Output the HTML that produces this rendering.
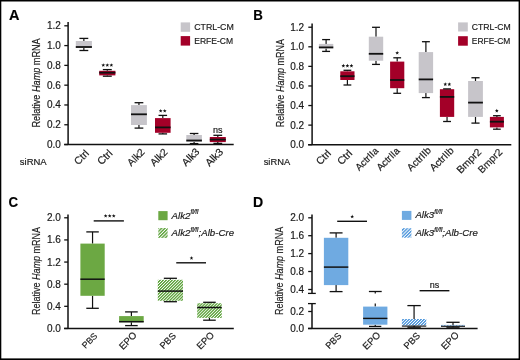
<!DOCTYPE html>
<html><head><meta charset="utf-8"><style>
html,body{margin:0;padding:0;background:#fff;}
svg{display:block;font-family:"Liberation Sans", sans-serif;will-change:transform;}
text{stroke:#1a1a1a;stroke-width:0.18px;}
</style></head><body>
<svg width="520" height="360" viewBox="0 0 520 360">
<defs>
<pattern id="hg" patternUnits="userSpaceOnUse" width="2.1" height="10" patternTransform="rotate(45)"><rect x="0" y="0" width="1.3" height="10" fill="#5ca23a"/></pattern>
<pattern id="hgl" patternUnits="userSpaceOnUse" width="2.35" height="10" patternTransform="rotate(45)"><rect x="0" y="0" width="1.4" height="10" fill="#5ca23a"/></pattern>
<pattern id="hb" patternUnits="userSpaceOnUse" width="2.1" height="10" patternTransform="rotate(45)"><rect x="0" y="0" width="1.3" height="10" fill="#4f97dc"/></pattern>
<pattern id="hbl" patternUnits="userSpaceOnUse" width="2.35" height="10" patternTransform="rotate(45)"><rect x="0" y="0" width="1.4" height="10" fill="#4f97dc"/></pattern>
</defs>
<rect x="0" y="0" width="520" height="360" fill="#fff"/>
<text x="9" y="20.4" font-size="14.5" text-anchor="start" font-weight="bold" font-style="normal" fill="#000" >A</text>
<text transform="translate(39.7,127.5) rotate(-90)" font-size="11" fill="#1a1a1a" textLength="89.2" lengthAdjust="spacingAndGlyphs">Relative <tspan font-style="italic">Hamp</tspan> mRNA</text>
<line x1="68.1" y1="22.1" x2="68.1" y2="144.55" stroke="#111" stroke-width="1.5"/>
<line x1="64.3" y1="25.79800000000003" x2="68.1" y2="25.79800000000003" stroke="#111" stroke-width="1.3"/>
<text x="60.8" y="29.29800000000003" font-size="10" text-anchor="end" font-weight="normal" font-style="normal" fill="#1a1a1a" >1.2</text>
<line x1="64.3" y1="45.59000000000002" x2="68.1" y2="45.59000000000002" stroke="#111" stroke-width="1.3"/>
<text x="60.8" y="49.09000000000002" font-size="10" text-anchor="end" font-weight="normal" font-style="normal" fill="#1a1a1a" >1.0</text>
<line x1="64.3" y1="65.382" x2="68.1" y2="65.382" stroke="#111" stroke-width="1.3"/>
<text x="60.8" y="68.882" font-size="10" text-anchor="end" font-weight="normal" font-style="normal" fill="#1a1a1a" >0.8</text>
<line x1="64.3" y1="85.17400000000002" x2="68.1" y2="85.17400000000002" stroke="#111" stroke-width="1.3"/>
<text x="60.8" y="88.67400000000002" font-size="10" text-anchor="end" font-weight="normal" font-style="normal" fill="#1a1a1a" >0.6</text>
<line x1="64.3" y1="104.96600000000001" x2="68.1" y2="104.96600000000001" stroke="#111" stroke-width="1.3"/>
<text x="60.8" y="108.46600000000001" font-size="10" text-anchor="end" font-weight="normal" font-style="normal" fill="#1a1a1a" >0.4</text>
<line x1="64.3" y1="124.75800000000001" x2="68.1" y2="124.75800000000001" stroke="#111" stroke-width="1.3"/>
<text x="60.8" y="128.258" font-size="10" text-anchor="end" font-weight="normal" font-style="normal" fill="#1a1a1a" >0.2</text>
<line x1="64.3" y1="144.55" x2="68.1" y2="144.55" stroke="#111" stroke-width="1.3"/>
<text x="60.8" y="148.05" font-size="10" text-anchor="end" font-weight="normal" font-style="normal" fill="#1a1a1a" >0.0</text>
<line x1="64.2" y1="144.55" x2="233.7" y2="144.55" stroke="#111" stroke-width="1.5"/>
<line x1="83.85" y1="38.4" x2="83.85" y2="41" stroke="#111" stroke-width="1.2"/>
<line x1="83.85" y1="47.9" x2="83.85" y2="50.5" stroke="#111" stroke-width="1.2"/>
<rect x="75.8" y="41" width="16.10000000000001" height="6.899999999999999" fill="#c7c5ca"/>
<line x1="79.42249999999999" y1="38.4" x2="88.2775" y2="38.4" stroke="#111" stroke-width="1.3"/>
<line x1="79.42249999999999" y1="50.5" x2="88.2775" y2="50.5" stroke="#111" stroke-width="1.3"/>
<line x1="75.8" y1="47" x2="91.9" y2="47" stroke="#111" stroke-width="1.8"/>
<line x1="107.30000000000001" y1="69.6" x2="107.30000000000001" y2="70.8" stroke="#111" stroke-width="1.2"/>
<line x1="107.30000000000001" y1="75.4" x2="107.30000000000001" y2="76.2" stroke="#111" stroke-width="1.2"/>
<rect x="99.2" y="70.8" width="16.200000000000003" height="4.6000000000000085" fill="#a30028"/>
<line x1="102.84500000000001" y1="69.6" x2="111.75500000000001" y2="69.6" stroke="#111" stroke-width="1.3"/>
<line x1="102.84500000000001" y1="76.2" x2="111.75500000000001" y2="76.2" stroke="#111" stroke-width="1.3"/>
<line x1="99.2" y1="72.7" x2="115.4" y2="72.7" stroke="#111" stroke-width="1.8"/>
<line x1="138.95" y1="102.7" x2="138.95" y2="105.1" stroke="#111" stroke-width="1.2"/>
<line x1="138.95" y1="125" x2="138.95" y2="128.1" stroke="#111" stroke-width="1.2"/>
<rect x="131" y="105.1" width="15.900000000000006" height="19.900000000000006" fill="#c7c5ca"/>
<line x1="134.5775" y1="102.7" x2="143.3225" y2="102.7" stroke="#111" stroke-width="1.3"/>
<line x1="134.5775" y1="128.1" x2="143.3225" y2="128.1" stroke="#111" stroke-width="1.3"/>
<line x1="131" y1="114.3" x2="146.9" y2="114.3" stroke="#111" stroke-width="1.8"/>
<line x1="162.8" y1="115.4" x2="162.8" y2="118.1" stroke="#111" stroke-width="1.2"/>
<line x1="162.8" y1="132.8" x2="162.8" y2="133.9" stroke="#111" stroke-width="1.2"/>
<rect x="155" y="118.1" width="15.599999999999994" height="14.700000000000017" fill="#a30028"/>
<line x1="158.51000000000002" y1="115.4" x2="167.09" y2="115.4" stroke="#111" stroke-width="1.3"/>
<line x1="158.51000000000002" y1="133.9" x2="167.09" y2="133.9" stroke="#111" stroke-width="1.3"/>
<line x1="155" y1="127.4" x2="170.6" y2="127.4" stroke="#111" stroke-width="1.8"/>
<line x1="194.10000000000002" y1="133.5" x2="194.10000000000002" y2="135" stroke="#111" stroke-width="1.2"/>
<line x1="194.10000000000002" y1="141.9" x2="194.10000000000002" y2="143.6" stroke="#111" stroke-width="1.2"/>
<rect x="186.3" y="135" width="15.599999999999994" height="6.900000000000006" fill="#c7c5ca"/>
<line x1="189.81000000000003" y1="133.5" x2="198.39000000000001" y2="133.5" stroke="#111" stroke-width="1.3"/>
<line x1="189.81000000000003" y1="143.6" x2="198.39000000000001" y2="143.6" stroke="#111" stroke-width="1.3"/>
<line x1="186.3" y1="140.5" x2="201.9" y2="140.5" stroke="#111" stroke-width="1.8"/>
<line x1="217.8" y1="135.3" x2="217.8" y2="137" stroke="#111" stroke-width="1.2"/>
<line x1="217.8" y1="142.1" x2="217.8" y2="143.4" stroke="#111" stroke-width="1.2"/>
<rect x="209.8" y="137" width="16.0" height="5.099999999999994" fill="#a30028"/>
<line x1="213.4" y1="135.3" x2="222.20000000000002" y2="135.3" stroke="#111" stroke-width="1.3"/>
<line x1="213.4" y1="143.4" x2="222.20000000000002" y2="143.4" stroke="#111" stroke-width="1.3"/>
<line x1="209.8" y1="139.6" x2="225.8" y2="139.6" stroke="#111" stroke-width="1.8"/>
<polygon points="103.25,63.20 103.75,64.51 105.15,64.58 104.06,65.46 104.43,66.82 103.25,66.05 102.07,66.82 102.44,65.46 101.35,64.58 102.75,64.51" fill="#111"/>
<polygon points="107.30,63.20 107.80,64.51 109.20,64.58 108.11,65.46 108.48,66.82 107.30,66.05 106.12,66.82 106.49,65.46 105.40,64.58 106.80,64.51" fill="#111"/>
<polygon points="111.35,63.20 111.85,64.51 113.25,64.58 112.16,65.46 112.53,66.82 111.35,66.05 110.17,66.82 110.54,65.46 109.45,64.58 110.85,64.51" fill="#111"/>
<polygon points="160.67,108.90 161.17,110.21 162.58,110.28 161.48,111.16 161.85,112.52 160.67,111.75 159.50,112.52 159.87,111.16 158.77,110.28 160.18,110.21" fill="#111"/>
<polygon points="164.72,108.90 165.22,110.21 166.63,110.28 165.53,111.16 165.90,112.52 164.72,111.75 163.55,112.52 163.92,111.16 162.82,110.28 164.23,110.21" fill="#111"/>
<text x="217.8" y="133.3" font-size="9" text-anchor="middle" font-weight="normal" font-style="normal" fill="#1a1a1a" >ns</text>
<rect x="180.7" y="22.4" width="9.4" height="9.4" fill="#c7c5ca"/>
<rect x="180.7" y="36.1" width="9.4" height="9.5" fill="#a30028"/>
<text x="194.2" y="29.8" font-size="9.7" text-anchor="start" font-weight="normal" font-style="normal" fill="#1a1a1a" textLength="39.6" lengthAdjust="spacingAndGlyphs">CTRL-CM</text>
<text x="194.2" y="43.7" font-size="9.7" text-anchor="start" font-weight="normal" font-style="normal" fill="#1a1a1a" textLength="38.9" lengthAdjust="spacingAndGlyphs">ERFE-CM</text>
<text x="19.8" y="165" font-size="9.8" text-anchor="start" font-weight="normal" font-style="normal" fill="#1a1a1a" textLength="26.9" lengthAdjust="spacingAndGlyphs">siRNA</text>
<text x="253.2" y="20.3" font-size="14.5" text-anchor="start" font-weight="bold" font-style="normal" fill="#000" textLength="9.6" lengthAdjust="spacingAndGlyphs">B</text>
<text transform="translate(284,127.2) rotate(-90)" font-size="11" fill="#1a1a1a" textLength="88.2" lengthAdjust="spacingAndGlyphs">Relative <tspan font-style="italic">Hamp</tspan> mRNA</text>
<line x1="312.1" y1="23.5" x2="312.1" y2="144.7" stroke="#111" stroke-width="1.5"/>
<line x1="308.3" y1="27.219999999999985" x2="312.1" y2="27.219999999999985" stroke="#111" stroke-width="1.3"/>
<text x="304.2" y="30.719999999999985" font-size="10" text-anchor="end" font-weight="normal" font-style="normal" fill="#1a1a1a" >1.2</text>
<line x1="308.3" y1="46.79999999999998" x2="312.1" y2="46.79999999999998" stroke="#111" stroke-width="1.3"/>
<text x="304.2" y="50.29999999999998" font-size="10" text-anchor="end" font-weight="normal" font-style="normal" fill="#1a1a1a" >1.0</text>
<line x1="308.3" y1="66.37999999999998" x2="312.1" y2="66.37999999999998" stroke="#111" stroke-width="1.3"/>
<text x="304.2" y="69.87999999999998" font-size="10" text-anchor="end" font-weight="normal" font-style="normal" fill="#1a1a1a" >0.8</text>
<line x1="308.3" y1="85.95999999999998" x2="312.1" y2="85.95999999999998" stroke="#111" stroke-width="1.3"/>
<text x="304.2" y="89.45999999999998" font-size="10" text-anchor="end" font-weight="normal" font-style="normal" fill="#1a1a1a" >0.6</text>
<line x1="308.3" y1="105.53999999999999" x2="312.1" y2="105.53999999999999" stroke="#111" stroke-width="1.3"/>
<text x="304.2" y="109.03999999999999" font-size="10" text-anchor="end" font-weight="normal" font-style="normal" fill="#1a1a1a" >0.4</text>
<line x1="308.3" y1="125.11999999999999" x2="312.1" y2="125.11999999999999" stroke="#111" stroke-width="1.3"/>
<text x="304.2" y="128.62" font-size="10" text-anchor="end" font-weight="normal" font-style="normal" fill="#1a1a1a" >0.2</text>
<line x1="308.3" y1="144.7" x2="312.1" y2="144.7" stroke="#111" stroke-width="1.3"/>
<text x="304.2" y="148.2" font-size="10" text-anchor="end" font-weight="normal" font-style="normal" fill="#1a1a1a" >0.0</text>
<line x1="308.1" y1="144.7" x2="511.3" y2="144.7" stroke="#111" stroke-width="1.5"/>
<line x1="326.1" y1="39.6" x2="326.1" y2="43.9" stroke="#111" stroke-width="1.2"/>
<line x1="326.1" y1="48.4" x2="326.1" y2="51.4" stroke="#111" stroke-width="1.2"/>
<rect x="318.9" y="43.9" width="14.400000000000034" height="4.5" fill="#c7c5ca"/>
<line x1="322.14" y1="39.6" x2="330.06000000000006" y2="39.6" stroke="#111" stroke-width="1.3"/>
<line x1="322.14" y1="51.4" x2="330.06000000000006" y2="51.4" stroke="#111" stroke-width="1.3"/>
<line x1="318.9" y1="47.4" x2="333.3" y2="47.4" stroke="#111" stroke-width="1.8"/>
<line x1="347.4" y1="70.3" x2="347.4" y2="71.3" stroke="#111" stroke-width="1.2"/>
<line x1="347.4" y1="80" x2="347.4" y2="85" stroke="#111" stroke-width="1.2"/>
<rect x="340.3" y="71.3" width="14.199999999999989" height="8.700000000000003" fill="#a30028"/>
<line x1="343.495" y1="70.3" x2="351.30499999999995" y2="70.3" stroke="#111" stroke-width="1.3"/>
<line x1="343.495" y1="85" x2="351.30499999999995" y2="85" stroke="#111" stroke-width="1.3"/>
<line x1="340.3" y1="76.2" x2="354.5" y2="76.2" stroke="#111" stroke-width="1.8"/>
<line x1="376.0" y1="27.3" x2="376.0" y2="36.7" stroke="#111" stroke-width="1.2"/>
<line x1="376.0" y1="60.7" x2="376.0" y2="64.4" stroke="#111" stroke-width="1.2"/>
<rect x="368.8" y="36.7" width="14.399999999999977" height="24.0" fill="#c7c5ca"/>
<line x1="372.04" y1="27.3" x2="379.96" y2="27.3" stroke="#111" stroke-width="1.3"/>
<line x1="372.04" y1="64.4" x2="379.96" y2="64.4" stroke="#111" stroke-width="1.3"/>
<line x1="368.8" y1="53.8" x2="383.2" y2="53.8" stroke="#111" stroke-width="1.8"/>
<line x1="397.20000000000005" y1="57.8" x2="397.20000000000005" y2="61.6" stroke="#111" stroke-width="1.2"/>
<line x1="397.20000000000005" y1="88.2" x2="397.20000000000005" y2="93.3" stroke="#111" stroke-width="1.2"/>
<rect x="390.1" y="61.6" width="14.199999999999989" height="26.6" fill="#a30028"/>
<line x1="393.2950000000001" y1="57.8" x2="401.105" y2="57.8" stroke="#111" stroke-width="1.3"/>
<line x1="393.2950000000001" y1="93.3" x2="401.105" y2="93.3" stroke="#111" stroke-width="1.3"/>
<line x1="390.1" y1="80" x2="404.3" y2="80" stroke="#111" stroke-width="1.8"/>
<line x1="425.9" y1="41.7" x2="425.9" y2="52.1" stroke="#111" stroke-width="1.2"/>
<line x1="425.9" y1="93.1" x2="425.9" y2="97.6" stroke="#111" stroke-width="1.2"/>
<rect x="418.7" y="52.1" width="14.400000000000034" height="40.99999999999999" fill="#c7c5ca"/>
<line x1="421.93999999999994" y1="41.7" x2="429.86" y2="41.7" stroke="#111" stroke-width="1.3"/>
<line x1="421.93999999999994" y1="97.6" x2="429.86" y2="97.6" stroke="#111" stroke-width="1.3"/>
<line x1="418.7" y1="79.4" x2="433.1" y2="79.4" stroke="#111" stroke-width="1.8"/>
<line x1="447.04999999999995" y1="88.9" x2="447.04999999999995" y2="89.2" stroke="#111" stroke-width="1.2"/>
<line x1="447.04999999999995" y1="116.9" x2="447.04999999999995" y2="121.5" stroke="#111" stroke-width="1.2"/>
<rect x="439.9" y="89.2" width="14.300000000000011" height="27.700000000000003" fill="#a30028"/>
<line x1="443.11749999999995" y1="88.9" x2="450.98249999999996" y2="88.9" stroke="#111" stroke-width="1.3"/>
<line x1="443.11749999999995" y1="121.5" x2="450.98249999999996" y2="121.5" stroke="#111" stroke-width="1.3"/>
<line x1="439.9" y1="96.9" x2="454.2" y2="96.9" stroke="#111" stroke-width="1.8"/>
<line x1="475.5" y1="77.75" x2="475.5" y2="81" stroke="#111" stroke-width="1.2"/>
<line x1="475.5" y1="116.9" x2="475.5" y2="123.1" stroke="#111" stroke-width="1.2"/>
<rect x="468.1" y="81" width="14.799999999999955" height="35.900000000000006" fill="#c7c5ca"/>
<line x1="471.43" y1="77.75" x2="479.57" y2="77.75" stroke="#111" stroke-width="1.3"/>
<line x1="471.43" y1="123.1" x2="479.57" y2="123.1" stroke="#111" stroke-width="1.3"/>
<line x1="468.1" y1="102.6" x2="482.9" y2="102.6" stroke="#111" stroke-width="1.8"/>
<line x1="496.9" y1="115.7" x2="496.9" y2="116.9" stroke="#111" stroke-width="1.2"/>
<line x1="496.9" y1="127.4" x2="496.9" y2="129.2" stroke="#111" stroke-width="1.2"/>
<rect x="489.9" y="116.9" width="14.0" height="10.5" fill="#a30028"/>
<line x1="493.04999999999995" y1="115.7" x2="500.75" y2="115.7" stroke="#111" stroke-width="1.3"/>
<line x1="493.04999999999995" y1="129.2" x2="500.75" y2="129.2" stroke="#111" stroke-width="1.3"/>
<line x1="489.9" y1="121.7" x2="503.9" y2="121.7" stroke="#111" stroke-width="1.8"/>
<polygon points="343.35,63.80 343.85,65.11 345.25,65.18 344.16,66.06 344.53,67.42 343.35,66.65 342.17,67.42 342.54,66.06 341.45,65.18 342.85,65.11" fill="#111"/>
<polygon points="347.40,63.80 347.90,65.11 349.30,65.18 348.21,66.06 348.58,67.42 347.40,66.65 346.22,67.42 346.59,66.06 345.50,65.18 346.90,65.11" fill="#111"/>
<polygon points="351.45,63.80 351.95,65.11 353.35,65.18 352.26,66.06 352.63,67.42 351.45,66.65 350.27,67.42 350.64,66.06 349.55,65.18 350.95,65.11" fill="#111"/>
<polygon points="397.20,50.90 397.70,52.21 399.10,52.28 398.01,53.16 398.38,54.52 397.20,53.75 396.02,54.52 396.39,53.16 395.30,52.28 396.70,52.21" fill="#111"/>
<polygon points="445.28,82.30 445.77,83.61 447.18,83.68 446.08,84.56 446.45,85.92 445.28,85.15 444.10,85.92 444.47,84.56 443.37,83.68 444.78,83.61" fill="#111"/>
<polygon points="449.33,82.30 449.82,83.61 451.23,83.68 450.13,84.56 450.50,85.92 449.33,85.15 448.15,85.92 448.52,84.56 447.42,83.68 448.83,83.61" fill="#111"/>
<polygon points="496.80,108.80 497.30,110.11 498.70,110.18 497.61,111.06 497.98,112.42 496.80,111.65 495.62,112.42 495.99,111.06 494.90,110.18 496.30,110.11" fill="#111"/>
<rect x="458.1" y="22.4" width="9.7" height="9.1" fill="#c7c5ca"/>
<rect x="458.1" y="36.2" width="9.7" height="9.5" fill="#a30028"/>
<text x="471.8" y="30.2" font-size="9.7" text-anchor="start" font-weight="normal" font-style="normal" fill="#1a1a1a" textLength="39" lengthAdjust="spacingAndGlyphs">CTRL-CM</text>
<text x="471.8" y="43.6" font-size="9.7" text-anchor="start" font-weight="normal" font-style="normal" fill="#1a1a1a" textLength="38.5" lengthAdjust="spacingAndGlyphs">ERFE-CM</text>
<text x="263.7" y="164.8" font-size="9.8" text-anchor="start" font-weight="normal" font-style="normal" fill="#1a1a1a" textLength="26.5" lengthAdjust="spacingAndGlyphs">siRNA</text>
<text x="8.6" y="206.6" font-size="14.5" text-anchor="start" font-weight="bold" font-style="normal" fill="#000" textLength="9.6" lengthAdjust="spacingAndGlyphs">C</text>
<text transform="translate(39.6,315.1) rotate(-90)" font-size="11" fill="#1a1a1a" textLength="88.20000000000002" lengthAdjust="spacingAndGlyphs">Relative <tspan font-style="italic">Hamp</tspan> mRNA</text>
<line x1="68.0" y1="214.4" x2="68.0" y2="328.45" stroke="#111" stroke-width="1.5"/>
<line x1="64.2" y1="217.79" x2="68.0" y2="217.79" stroke="#111" stroke-width="1.3"/>
<text x="60.8" y="221.29" font-size="10" text-anchor="end" font-weight="normal" font-style="normal" fill="#1a1a1a" >2.0</text>
<line x1="64.2" y1="239.92199999999997" x2="68.0" y2="239.92199999999997" stroke="#111" stroke-width="1.3"/>
<text x="60.8" y="243.42199999999997" font-size="10" text-anchor="end" font-weight="normal" font-style="normal" fill="#1a1a1a" >1.6</text>
<line x1="64.2" y1="262.054" x2="68.0" y2="262.054" stroke="#111" stroke-width="1.3"/>
<text x="60.8" y="265.554" font-size="10" text-anchor="end" font-weight="normal" font-style="normal" fill="#1a1a1a" >1.2</text>
<line x1="64.2" y1="284.186" x2="68.0" y2="284.186" stroke="#111" stroke-width="1.3"/>
<text x="60.8" y="287.686" font-size="10" text-anchor="end" font-weight="normal" font-style="normal" fill="#1a1a1a" >0.8</text>
<line x1="64.2" y1="306.318" x2="68.0" y2="306.318" stroke="#111" stroke-width="1.3"/>
<text x="60.8" y="309.818" font-size="10" text-anchor="end" font-weight="normal" font-style="normal" fill="#1a1a1a" >0.4</text>
<line x1="64.2" y1="328.45" x2="68.0" y2="328.45" stroke="#111" stroke-width="1.3"/>
<text x="60.8" y="331.95" font-size="10" text-anchor="end" font-weight="normal" font-style="normal" fill="#1a1a1a" >0.0</text>
<line x1="64.1" y1="328.45" x2="233.8" y2="328.45" stroke="#111" stroke-width="1.5"/>
<line x1="92.55000000000001" y1="231.9" x2="92.55000000000001" y2="243.6" stroke="#111" stroke-width="1.2"/>
<line x1="92.55000000000001" y1="295.8" x2="92.55000000000001" y2="308.3" stroke="#111" stroke-width="1.2"/>
<rect x="80.4" y="243.6" width="24.299999999999997" height="52.20000000000002" fill="#6ca843"/>
<line x1="86.30000000000001" y1="231.9" x2="98.80000000000001" y2="231.9" stroke="#111" stroke-width="1.3"/>
<line x1="86.30000000000001" y1="308.3" x2="98.80000000000001" y2="308.3" stroke="#111" stroke-width="1.3"/>
<line x1="80.4" y1="279.2" x2="104.7" y2="279.2" stroke="#111" stroke-width="1.5"/>
<line x1="131.39999999999998" y1="311.9" x2="131.39999999999998" y2="316.1" stroke="#111" stroke-width="1.2"/>
<line x1="131.39999999999998" y1="322.2" x2="131.39999999999998" y2="325.6" stroke="#111" stroke-width="1.2"/>
<rect x="119.1" y="316.1" width="24.599999999999994" height="6.099999999999966" fill="#6ca843"/>
<line x1="125.09999999999998" y1="311.9" x2="137.7" y2="311.9" stroke="#111" stroke-width="1.3"/>
<line x1="125.09999999999998" y1="325.6" x2="137.7" y2="325.6" stroke="#111" stroke-width="1.3"/>
<line x1="119.1" y1="321.7" x2="143.7" y2="321.7" stroke="#111" stroke-width="1.5"/>
<line x1="170.4" y1="278.3" x2="170.4" y2="279.8" stroke="#111" stroke-width="1.2"/>
<line x1="170.4" y1="300.8" x2="170.4" y2="301.7" stroke="#111" stroke-width="1.2"/>
<rect x="157.8" y="279.8" width="25.19999999999999" height="21.0" fill="url(#hg)"/>
<line x1="163.85" y1="278.3" x2="176.95000000000002" y2="278.3" stroke="#111" stroke-width="1.3"/>
<line x1="163.85" y1="301.7" x2="176.95000000000002" y2="301.7" stroke="#111" stroke-width="1.3"/>
<line x1="157.8" y1="291.1" x2="183" y2="291.1" stroke="#111" stroke-width="1.5"/>
<line x1="209.45" y1="302.3" x2="209.45" y2="303.2" stroke="#111" stroke-width="1.2"/>
<line x1="209.45" y1="317.9" x2="209.45" y2="320.2" stroke="#111" stroke-width="1.2"/>
<rect x="197.2" y="303.2" width="24.5" height="14.699999999999989" fill="url(#hg)"/>
<line x1="203.14999999999998" y1="302.3" x2="215.75" y2="302.3" stroke="#111" stroke-width="1.3"/>
<line x1="203.14999999999998" y1="320.2" x2="215.75" y2="320.2" stroke="#111" stroke-width="1.3"/>
<line x1="197.2" y1="307.5" x2="221.7" y2="307.5" stroke="#111" stroke-width="1.5"/>
<line x1="93.7" y1="220.9" x2="123.9" y2="220.9" stroke="#111" stroke-width="1.4"/>
<polygon points="105.65,214.00 106.15,215.31 107.55,215.38 106.46,216.26 106.83,217.62 105.65,216.85 104.47,217.62 104.84,216.26 103.75,215.38 105.15,215.31" fill="#111"/>
<polygon points="109.70,214.00 110.20,215.31 111.60,215.38 110.51,216.26 110.88,217.62 109.70,216.85 108.52,217.62 108.89,216.26 107.80,215.38 109.20,215.31" fill="#111"/>
<polygon points="113.75,214.00 114.25,215.31 115.65,215.38 114.56,216.26 114.93,217.62 113.75,216.85 112.57,217.62 112.94,216.26 111.85,215.38 113.25,215.31" fill="#111"/>
<line x1="176.25" y1="262.8" x2="206" y2="262.8" stroke="#111" stroke-width="1.4"/>
<polygon points="191.50,256.10 192.00,257.41 193.40,257.48 192.31,258.36 192.68,259.72 191.50,258.95 190.32,259.72 190.69,258.36 189.60,257.48 191.00,257.41" fill="#111"/>
<rect x="158.3" y="211.1" width="9.3" height="9.1" fill="#6ca843"/>
<rect x="158.3" y="228" width="9.3" height="9.9" fill="url(#hgl)"/>
<text x="171.6" y="218.6" font-size="9.7" font-style="italic" fill="#1a1a1a">Alk2<tspan font-size="6.3" dy="-4.3">fl/fl</tspan></text>
<text x="171.6" y="235.8" font-size="9.7" font-style="italic" fill="#1a1a1a">Alk2<tspan font-size="6.3" dy="-4.3">fl/fl</tspan><tspan dy="4.3">;Alb-Cre</tspan></text>
<text x="253.1" y="206.5" font-size="14.5" text-anchor="start" font-weight="bold" font-style="normal" fill="#000" textLength="10.2" lengthAdjust="spacingAndGlyphs">D</text>
<text transform="translate(283.3,315.1) rotate(-90)" font-size="11" fill="#1a1a1a" textLength="88.30000000000001" lengthAdjust="spacingAndGlyphs">Relative <tspan font-style="italic">Hamp</tspan> mRNA</text>
<line x1="312.0" y1="214.4" x2="312.0" y2="293.4" stroke="#111" stroke-width="1.5"/>
<line x1="308.2" y1="217.8" x2="312.0" y2="217.8" stroke="#111" stroke-width="1.3"/>
<text x="304.2" y="221.3" font-size="10" text-anchor="end" font-weight="normal" font-style="normal" fill="#1a1a1a" >2.0</text>
<line x1="308.2" y1="235.7" x2="312.0" y2="235.7" stroke="#111" stroke-width="1.3"/>
<text x="304.2" y="239.2" font-size="10" text-anchor="end" font-weight="normal" font-style="normal" fill="#1a1a1a" >1.6</text>
<line x1="308.2" y1="253.6" x2="312.0" y2="253.6" stroke="#111" stroke-width="1.3"/>
<text x="304.2" y="257.1" font-size="10" text-anchor="end" font-weight="normal" font-style="normal" fill="#1a1a1a" >1.2</text>
<line x1="308.2" y1="271.5" x2="312.0" y2="271.5" stroke="#111" stroke-width="1.3"/>
<text x="304.2" y="275.0" font-size="10" text-anchor="end" font-weight="normal" font-style="normal" fill="#1a1a1a" >0.8</text>
<line x1="308.2" y1="289.5" x2="312.0" y2="289.5" stroke="#111" stroke-width="1.3"/>
<text x="304.2" y="293.0" font-size="10" text-anchor="end" font-weight="normal" font-style="normal" fill="#1a1a1a" >0.4</text>
<line x1="308" y1="293.4" x2="315.8" y2="293.4" stroke="#111" stroke-width="1.3"/>
<line x1="312.0" y1="303.6" x2="312.0" y2="328.45" stroke="#111" stroke-width="1.5"/>
<line x1="308.2" y1="311.5" x2="312.0" y2="311.5" stroke="#111" stroke-width="1.3"/>
<text x="304.2" y="315.0" font-size="10" text-anchor="end" font-weight="normal" font-style="normal" fill="#1a1a1a" >0.2</text>
<line x1="308.2" y1="328.45" x2="312.0" y2="328.45" stroke="#111" stroke-width="1.3"/>
<text x="304.2" y="331.95" font-size="10" text-anchor="end" font-weight="normal" font-style="normal" fill="#1a1a1a" >0.0</text>
<line x1="308" y1="303.6" x2="315.8" y2="303.6" stroke="#111" stroke-width="1.3"/>
<line x1="308" y1="328.45" x2="477.6" y2="328.45" stroke="#111" stroke-width="1.5"/>
<line x1="336.1" y1="232.9" x2="336.1" y2="237.8" stroke="#111" stroke-width="1.2"/>
<line x1="336.1" y1="285.1" x2="336.1" y2="291.6" stroke="#111" stroke-width="1.2"/>
<rect x="323.9" y="237.8" width="24.400000000000034" height="47.30000000000001" fill="#6faae1"/>
<line x1="329.65000000000003" y1="232.9" x2="342.55" y2="232.9" stroke="#111" stroke-width="1.3"/>
<line x1="329.65000000000003" y1="291.6" x2="342.55" y2="291.6" stroke="#111" stroke-width="1.3"/>
<line x1="323.9" y1="267.1" x2="348.3" y2="267.1" stroke="#111" stroke-width="1.5"/>
<line x1="375.25" y1="291.5" x2="375.25" y2="293.4" stroke="#111" stroke-width="1.2"/>
<line x1="368.9" y1="291.5" x2="381.7" y2="291.5" stroke="#111" stroke-width="1.3"/>
<line x1="375.25" y1="303.6" x2="375.25" y2="306.6" stroke="#111" stroke-width="1.2"/>
<line x1="375.25" y1="324.7" x2="375.25" y2="326.4" stroke="#111" stroke-width="1.2"/>
<rect x="363.1" y="306.6" width="24.299999999999955" height="18.099999999999966" fill="#6faae1"/>
<line x1="375.245" y1="303.6" x2="375.255" y2="303.6" stroke="#111" stroke-width="1.3"/>
<line x1="375.245" y1="326.4" x2="375.255" y2="326.4" stroke="#111" stroke-width="1.3"/>
<line x1="363.1" y1="318.4" x2="387.4" y2="318.4" stroke="#111" stroke-width="1.4"/>
<line x1="369" y1="326.4" x2="381.3" y2="326.4" stroke="#111" stroke-width="1.3"/>
<line x1="414.075" y1="305.6" x2="414.075" y2="319" stroke="#111" stroke-width="1.2"/>
<line x1="414.075" y1="325.5" x2="414.075" y2="327.2" stroke="#111" stroke-width="1.2"/>
<rect x="401.9" y="319" width="24.350000000000023" height="6.5" fill="url(#hb)"/>
<line x1="407.375" y1="305.6" x2="420.775" y2="305.6" stroke="#111" stroke-width="1.3"/>
<line x1="407.375" y1="327.2" x2="420.775" y2="327.2" stroke="#111" stroke-width="1.3"/>
<line x1="401.9" y1="326.1" x2="426.25" y2="326.1" stroke="#111" stroke-width="1.1"/>
<line x1="453.0" y1="322.3" x2="453.0" y2="324.9" stroke="#111" stroke-width="1.2"/>
<line x1="453.0" y1="325.8" x2="453.0" y2="327.2" stroke="#111" stroke-width="1.2"/>
<rect x="441" y="324.9" width="24" height="0.9000000000000341" fill="url(#hb)"/>
<line x1="446.4" y1="322.3" x2="459.6" y2="322.3" stroke="#111" stroke-width="1.3"/>
<line x1="446.4" y1="327.2" x2="459.6" y2="327.2" stroke="#111" stroke-width="1.3"/>
<line x1="441" y1="326.3" x2="465" y2="326.3" stroke="#111" stroke-width="1.1"/>
<line x1="337.2" y1="221.3" x2="367" y2="221.3" stroke="#111" stroke-width="1.4"/>
<polygon points="352.20,214.60 352.70,215.91 354.10,215.98 353.01,216.86 353.38,218.22 352.20,217.45 351.02,218.22 351.39,216.86 350.30,215.98 351.70,215.91" fill="#111"/>
<line x1="419.6" y1="290.7" x2="449.4" y2="290.7" stroke="#111" stroke-width="1.4"/>
<text x="434.5" y="287.7" font-size="9" text-anchor="middle" font-weight="normal" font-style="normal" fill="#1a1a1a" >ns</text>
<rect x="401.9" y="210.9" width="9.5" height="9" fill="#6faae1"/>
<rect x="401.9" y="228.2" width="9.5" height="9.5" fill="url(#hbl)"/>
<text x="415.4" y="218.3" font-size="9.7" font-style="italic" fill="#1a1a1a">Alk3<tspan font-size="6.3" dy="-4.3">fl/fl</tspan></text>
<text x="415.4" y="236.3" font-size="9.7" font-style="italic" fill="#1a1a1a">Alk3<tspan font-size="6.3" dy="-4.3">fl/fl</tspan><tspan dy="4.3">;Alb-Cre</tspan></text>
<text transform="translate(89.68,154.03) rotate(-45)" font-size="10.38" text-anchor="end" fill="#1a1a1a">Ctrl</text>
<text transform="translate(113.16,153.99) rotate(-45)" font-size="10.56" text-anchor="end" fill="#1a1a1a">Ctrl</text>
<text transform="translate(145.38,152.65) rotate(-45)" font-size="10.21" text-anchor="end" fill="#1a1a1a">Alk2</text>
<text transform="translate(168.3,152.78) rotate(-45)" font-size="10.24" text-anchor="end" fill="#1a1a1a">Alk2</text>
<text transform="translate(200.14,152.53) rotate(-45)" font-size="10.33" text-anchor="end" fill="#1a1a1a">Alk3</text>
<text transform="translate(223.8,152.62) rotate(-45)" font-size="10.45" text-anchor="end" fill="#1a1a1a">Alk3</text>
<text transform="translate(331.73,154.02) rotate(-45)" font-size="10.45" text-anchor="end" fill="#1a1a1a">Ctrl</text>
<text transform="translate(353.01,154.01) rotate(-45)" font-size="10.49" text-anchor="end" fill="#1a1a1a">Ctrl</text>
<text transform="translate(379.02,151.45) rotate(-45)" font-size="9.72" text-anchor="end" fill="#1a1a1a">ActrIIa</text>
<text transform="translate(400.35,151.39) rotate(-45)" font-size="9.78" text-anchor="end" fill="#1a1a1a">ActrIIa</text>
<text transform="translate(431.79,151.11) rotate(-45)" font-size="10.15" text-anchor="end" fill="#1a1a1a">ActrIIb</text>
<text transform="translate(454.36,151.17) rotate(-45)" font-size="10.09" text-anchor="end" fill="#1a1a1a">ActrIIb</text>
<text transform="translate(481.99,152.66) rotate(-45)" font-size="10.23" text-anchor="end" fill="#1a1a1a">Bmpr2</text>
<text transform="translate(502.93,152.77) rotate(-45)" font-size="10.1" text-anchor="end" fill="#1a1a1a">Bmpr2</text>
<text transform="translate(97.97,336.47) rotate(-45)" font-size="8.84" text-anchor="end" fill="#1a1a1a">PBS</text>
<text transform="translate(137.27,335.8) rotate(-45)" font-size="9.63" text-anchor="end" fill="#1a1a1a">EPO</text>
<text transform="translate(176.54,336.46) rotate(-45)" font-size="9.28" text-anchor="end" fill="#1a1a1a">PBS</text>
<text transform="translate(214.81,335.83) rotate(-45)" font-size="9.57" text-anchor="end" fill="#1a1a1a">EPO</text>
<text transform="translate(342.24,336.46) rotate(-45)" font-size="9.28" text-anchor="end" fill="#1a1a1a">PBS</text>
<text transform="translate(380.97,335.8) rotate(-45)" font-size="9.63" text-anchor="end" fill="#1a1a1a">EPO</text>
<text transform="translate(420.76,336.4) rotate(-45)" font-size="9.39" text-anchor="end" fill="#1a1a1a">PBS</text>
<text transform="translate(459.45,335.79) rotate(-45)" font-size="9.66" text-anchor="end" fill="#1a1a1a">EPO</text>
<rect x="0" y="0" width="520" height="1.5" fill="#000"/><rect x="0" y="358.4" width="520" height="1.6" fill="#000"/><rect x="0" y="0" width="1.3" height="360" fill="#000"/><rect x="518.6" y="0" width="1.4" height="360" fill="#000"/>
</svg>
</body></html>
